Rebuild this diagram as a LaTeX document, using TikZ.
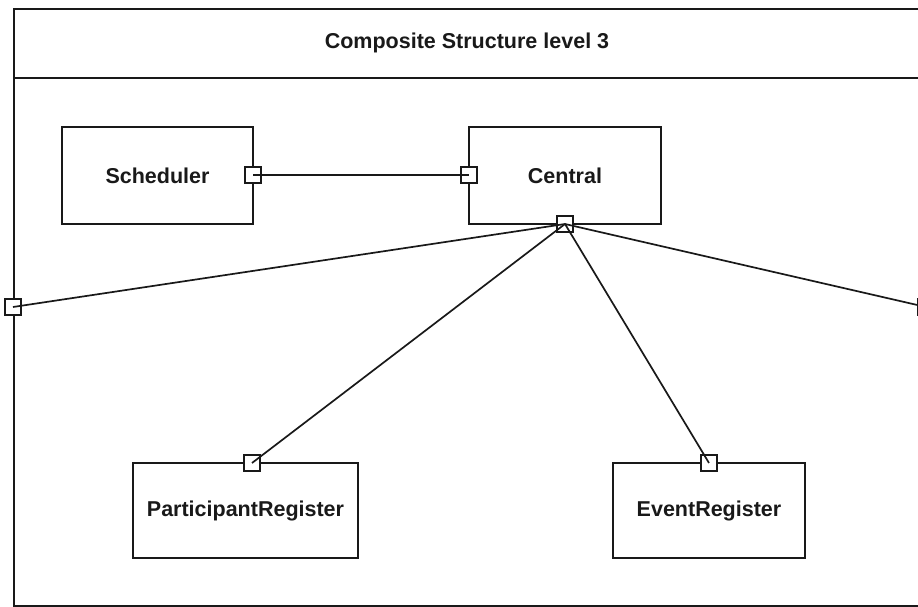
\documentclass[tikz,border=0pt]{standalone}
\usepackage{fontspec}
\setmainfont{Liberation Sans}
\begin{document}
\begin{tikzpicture}[x=1pt,y=-1pt,
  ink/.style={draw=black!90},
  label/.style={font=\bfseries\fontsize{21.5}{25}\selectfont, text=black!90},
  part/.style={ink, label, line width=1.8pt, inner sep=0pt},
  port/.style={ink, fill=white, line width=2pt, minimum size=16pt, inner sep=0pt},
  wire/.style={ink, line width=1.7pt}]
  \useasboundingbox (0,0) rectangle (918,607);
  \clip (0,0) rectangle (918,607);

  % enclosing structure with its title compartment
  \node[ink, line width=2.4pt, minimum width=913pt, minimum height=597pt,
        anchor=north west, inner sep=0pt] (frame) at (13,8) {};
  \coordinate (sepL) at (13,78);
  \coordinate (sepR) at (926,78);
  \draw[ink, line width=2.2pt] (sepL) -- (sepR);
  \node[label] (title) at (467,43) {Composite Structure level 3};

  % parts
  \node[part, minimum width=191pt, minimum height=97pt] (sched) at (157.5,175.5) {Scheduler};
  \node[part, minimum width=192pt, minimum height=97pt] (central) at (565,175.5) {Central};
  \node[part, minimum width=225pt, minimum height=95pt] (preg) at (245.5,510.5) {ParticipantRegister};
  \node[part, minimum width=192pt, minimum height=95pt] (ereg) at (709,510.5) {EventRegister};

  % ports
  \node[port] (sp) at (253,175) {};
  \node[port] (cl) at (469,175) {};
  \node[port] (cb) at (565,224) {};
  \node[port] (lp) at (13,307) {};
  \node[port] (rp) at (926,307) {};
  \node[port] (pp) at (252,463) {};
  \node[port] (ep) at (709,463) {};

  % connectors
  \draw[wire] (sp.center) -- (cl.center);
  \draw[wire] (cb.center) -- (lp.center);
  \draw[wire] (cb.center) -- (rp.center);
  \draw[wire] (cb.center) -- (pp.center);
  \draw[wire] (cb.center) -- (ep.center);
\end{tikzpicture}
\end{document}
